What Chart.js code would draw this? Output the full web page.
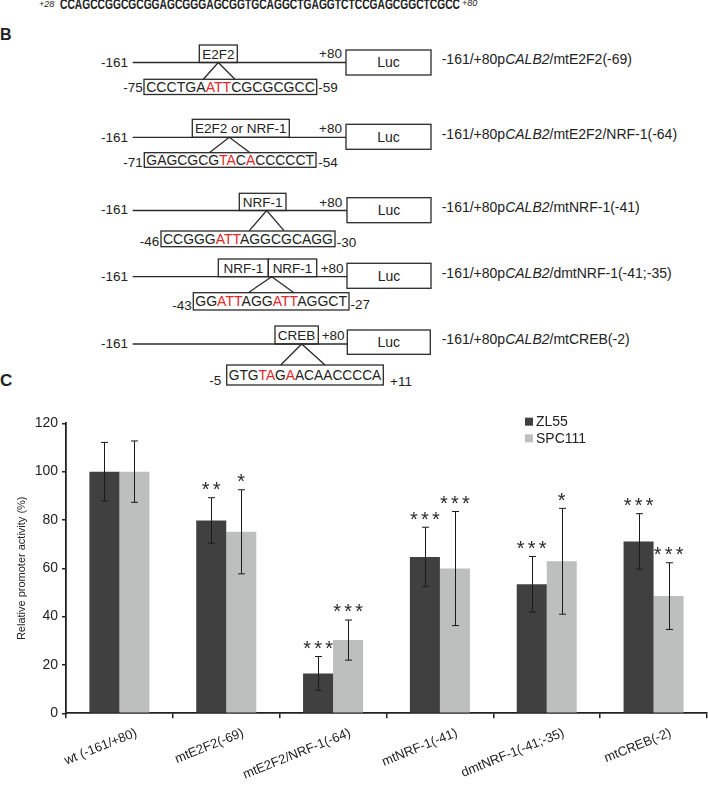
<!DOCTYPE html>
<html>
<head>
<meta charset="utf-8">
<script src="https://cdn.jsdelivr.net/npm/chart.js@4.4.1/dist/chart.umd.min.js"></script>
<style>
  html, body { margin: 0; padding: 0; background: #fff; }
  body { width: 708px; height: 785px; position: relative; overflow: hidden; font-family: "Liberation Sans", Arial, sans-serif; }
  #diagram { position: absolute; left: 0; top: 0; }
  #chartWrap { position: absolute; left: 0; top: 395px; width: 708px; height: 390px; }
</style>
</head>
<body>
<svg id="diagram" width="708" height="395" xmlns="http://www.w3.org/2000/svg" font-family="Liberation Sans, Arial, sans-serif" fill="#222">
  <!-- top of panel A -->
  <text x="39" y="7" font-size="9" font-style="italic">+28</text>
  <text x="60" y="9" font-size="15" font-weight="bold" font-family="Liberation Sans Narrow, Arial Narrow, Liberation Sans, Arial, sans-serif" textLength="400" lengthAdjust="spacingAndGlyphs">CCAGCCGGCGCGGAGCGGGAGCGGTGCAGGCTGAGGTCTCCGAGCGGCTCGCC</text>
  <text x="462" y="6" font-size="9" font-style="italic">+80</text>

  <text x="0" y="40" font-size="16" font-weight="bold">B</text>
  <text x="0" y="386" font-size="17" font-weight="bold">C</text>

  <g stroke="#2a2a2a" stroke-width="1.3" fill="none">
    <!-- row 1 -->
    <line x1="132.7" y1="62.5" x2="346" y2="62.5"/>
    <rect x="199.3" y="45" width="38" height="17.5"/>
    <rect x="346" y="50" width="85" height="25"/>
    <polyline points="203.3,79.3 218.3,62.5 235,79.3"/>
    <rect x="144" y="79.3" width="172.7" height="15.2"/>
    <!-- row 2 -->
    <line x1="132.7" y1="137.3" x2="346" y2="137.3"/>
    <rect x="192.3" y="119.3" width="97" height="18"/>
    <rect x="346" y="124.3" width="85" height="25"/>
    <polyline points="209.3,152.7 229.3,137.3 250,152.7"/>
    <rect x="144.3" y="152.7" width="171.7" height="14.6"/>
    <!-- row 3 -->
    <line x1="132.7" y1="210.5" x2="347" y2="210.5"/>
    <rect x="239.3" y="193.3" width="46.7" height="17.2"/>
    <rect x="347" y="197.7" width="84" height="25"/>
    <polyline points="249.3,230.7 266.7,210.5 284,230.7"/>
    <rect x="161" y="231" width="174" height="15.7"/>
    <!-- row 4 -->
    <line x1="132.7" y1="276.7" x2="347" y2="276.7"/>
    <rect x="218.3" y="259" width="50" height="17.7"/>
    <rect x="268.3" y="259" width="48.4" height="17.7"/>
    <rect x="347" y="263.3" width="84" height="25"/>
    <polyline points="248.3,292.7 271.7,276.7 294,292.7"/>
    <rect x="193.3" y="292.7" width="155.7" height="17.3"/>
    <!-- row 5 -->
    <line x1="132.7" y1="344" x2="347.3" y2="344"/>
    <rect x="275" y="326" width="43.3" height="18"/>
    <rect x="347.3" y="330" width="83" height="24.3"/>
    <polyline points="280.7,365 301.7,344 325,365"/>
    <rect x="226.7" y="365" width="156.6" height="20"/>
  </g>

  <g font-size="13.5">
    <!-- row 1 -->
    <text x="128" y="67.2" text-anchor="end">-161</text>
    <text x="319" y="58.2">+80</text>
    <text x="218.3" y="58.6" text-anchor="middle">E2F2</text>
    <text x="142.7" y="92.2" text-anchor="end">-75</text>
    <text x="318.3" y="92.2">-59</text>
    <!-- row 2 -->
    <text x="128" y="142.2" text-anchor="end">-161</text>
    <text x="319" y="133.2">+80</text>
    <text x="240.8" y="133.2" text-anchor="middle">E2F2 or NRF-1</text>
    <text x="142.7" y="167.2" text-anchor="end">-71</text>
    <text x="318.3" y="167.2">-54</text>
    <!-- row 3 -->
    <text x="128" y="214.2" text-anchor="end">-161</text>
    <text x="319.3" y="207.2">+80</text>
    <text x="262.6" y="206.8" text-anchor="middle">NRF-1</text>
    <text x="159.3" y="245.9" text-anchor="end">-46</text>
    <text x="336.7" y="246.9">-30</text>
    <!-- row 4 -->
    <text x="128" y="280.9" text-anchor="end">-161</text>
    <text x="320.7" y="273.2">+80</text>
    <text x="243.3" y="272.8" text-anchor="middle">NRF-1</text>
    <text x="292.5" y="272.8" text-anchor="middle">NRF-1</text>
    <text x="191.7" y="309.9" text-anchor="end">-43</text>
    <text x="350.5" y="309.4">-27</text>
    <!-- row 5 -->
    <text x="128" y="347.6" text-anchor="end">-161</text>
    <text x="321.7" y="339.9">+80</text>
    <text x="296.6" y="340" text-anchor="middle">CREB</text>
    <text x="209.3" y="384.9">-5</text>
    <text x="390" y="385.9">+11</text>
  </g>

  <g font-size="14">
    <text x="388.5" y="67.3" text-anchor="middle">Luc</text>
    <text x="388.5" y="141.8" text-anchor="middle">Luc</text>
    <text x="389" y="215.2" text-anchor="middle">Luc</text>
    <text x="389" y="280.8" text-anchor="middle">Luc</text>
    <text x="388.8" y="347.2" text-anchor="middle">Luc</text>

    <text x="441.7" y="63.7">-161/+80p<tspan font-style="italic">CALB2</tspan>/mtE2F2(-69)</text>
    <text x="441.7" y="138.7">-161/+80p<tspan font-style="italic">CALB2</tspan>/mtE2F2/NRF-1(-64)</text>
    <text x="441.7" y="211.7">-161/+80p<tspan font-style="italic">CALB2</tspan>/mtNRF-1(-41)</text>
    <text x="441.7" y="277.8">-161/+80p<tspan font-style="italic">CALB2</tspan>/dmtNRF-1(-41;-35)</text>
    <text x="441.7" y="344">-161/+80p<tspan font-style="italic">CALB2</tspan>/mtCREB(-2)</text>

    <text x="146.2" y="92" textLength="168.7" lengthAdjust="spacingAndGlyphs">CCCTGA<tspan fill="#e3262b">ATT</tspan>CGCGCGCC</text>
    <text x="146.3" y="165" textLength="167.7" lengthAdjust="spacingAndGlyphs">GAGCGCG<tspan fill="#e3262b">TA</tspan>C<tspan fill="#e3262b">A</tspan>CCCCCT</text>
    <text x="163" y="243.9" textLength="170" lengthAdjust="spacingAndGlyphs">CCGGG<tspan fill="#e3262b">ATT</tspan>AGGCGCAGG</text>
    <text x="195.3" y="306.4" textLength="151.7" lengthAdjust="spacingAndGlyphs">GG<tspan fill="#e3262b">ATT</tspan>AGG<tspan fill="#e3262b">ATT</tspan>AGGCT</text>
    <text x="228.7" y="380" textLength="152.6" lengthAdjust="spacingAndGlyphs">GTG<tspan fill="#e3262b">TA</tspan>G<tspan fill="#e3262b">A</tspan>ACAACCCCA</text>
  </g>
</svg>

<div id="chartWrap"><canvas id="chart" width="708" height="390"></canvas></div>

<script>
// ---- data ----
const categories = ['wt (-161/+80)', 'mtE2F2(-69)', 'mtE2F2/NRF-1(-64)', 'mtNRF-1(-41)', 'dmtNRF-1(-41;-35)', 'mtCREB(-2)'];
const seriesNames = ['ZL55', 'SPC111'];
const zl55 = [100, 79.8, 16.5, 64.7, 53.4, 71.1];
const spc111 = [100, 75.1, 30.3, 59.9, 62.9, 48.5];
const zl55Err = [12.1, 9.4, 7.0, 12.3, 11.5, 11.5];
const spc111Err = [12.7, 17.4, 8.3, 23.6, 21.9, 13.8];
const zl55Sig = ['', '**', '***', '***', '***', '***'];
const spc111Sig = ['', '*', '***', '***', '*', '***'];
const yMin = 0, yMax = 120, yStep = 20;
const yTitle = 'Relative promoter activity (%)';

const FONT = '"Liberation Sans", Arial, sans-serif';
Chart.defaults.font.family = FONT;
Chart.defaults.color = '#222';

const overlay = {
  id: 'overlay',
  afterDatasetsDraw(chart) {
    const ctx = chart.ctx;
    const ys = chart.scales.y;
    chart.data.datasets.forEach((ds, di) => {
      const meta = chart.getDatasetMeta(di);
      meta.data.forEach((bar, i) => {
        const v = ds.data[i], e = ds.errors[i];
        const x = Math.round(bar.x) + 0.5;
        const yt = ys.getPixelForValue(v + e);
        const yb = ys.getPixelForValue(v - e);
        ctx.save();
        ctx.strokeStyle = '#1a1a1a';
        ctx.lineWidth = 1;
        ctx.beginPath();
        ctx.moveTo(x, yt); ctx.lineTo(x, yb);
        ctx.moveTo(x - 3.5, yt); ctx.lineTo(x + 3.5, yt);
        ctx.moveTo(x - 3.5, yb); ctx.lineTo(x + 3.5, yb);
        ctx.stroke();
        const s = ds.sig[i];
        if (s) {
          const fs = 20;
          ctx.fillStyle = '#2a2a2a';
          ctx.font = fs + 'px ' + FONT;
          ctx.textAlign = 'center';
          ctx.textBaseline = 'alphabetic';
          const n = s.length, pitch = 11;
          const cy = yt - 13;
          for (let k = 0; k < n; k++) {
            ctx.fillText('*', bar.x + (k - (n - 1) / 2) * pitch, cy + 0.57 * fs);
          }
        }
        ctx.restore();
      });
    });
    // legend
    ctx.save();
    ctx.font = '14px ' + FONT;
    ctx.textBaseline = 'middle';
    ctx.textAlign = 'left';
    chart.data.datasets.forEach((ds, di) => {
      const cy = 26.7 + di * 16.6;
      ctx.fillStyle = ds.backgroundColor;
      ctx.fillRect(525, cy - 4, 8, 8);
      ctx.fillStyle = '#222';
      ctx.fillText(ds.label, 536, cy + 0.5);
    });
    ctx.restore();
  }
};

new Chart(document.getElementById('chart'), {
  type: 'bar',
  data: {
    labels: categories,
    datasets: [
      { label: seriesNames[0], data: zl55, errors: zl55Err, sig: zl55Sig, backgroundColor: '#404040', borderWidth: 0 },
      { label: seriesNames[1], data: spc111, errors: spc111Err, sig: spc111Sig, backgroundColor: '#bdbebe', borderWidth: 0 }
    ]
  },
  options: {
    responsive: false,
    devicePixelRatio: 1,
    animation: false,
    layout: { padding: { left: 0, right: 1, top: 28.3, bottom: 0 } },
    datasets: { bar: { barPercentage: 1, categoryPercentage: 0.562 } },
    plugins: { legend: { display: false }, tooltip: { enabled: false } },
    scales: {
      x: {
        afterFit(scale) { scale.height = 71.7; },
        grid: { drawOnChartArea: false, offset: true, tickLength: 5, color: '#222', lineWidth: 1.5 },
        border: { color: '#222', width: 1.8 },
        ticks: { autoSkip: false, maxRotation: 22, minRotation: 22, padding: 7, labelOffset: 17, font: { size: 13 }, color: '#222' }
      },
      y: {
        min: yMin, max: yMax,
        afterFit(scale) { scale.width = 66; },
        grid: { drawOnChartArea: false, tickLength: 4, color: '#222', lineWidth: 1.5 },
        border: { color: '#222', width: 1.8 },
        ticks: { stepSize: yStep, padding: 4, font: { size: 14 }, color: '#222' },
        title: { display: true, text: yTitle, font: { size: 11 }, color: '#222', padding: { top: 15, bottom: 0 } }
      }
    }
  },
  plugins: [overlay]
});
</script>
</body>
</html>
